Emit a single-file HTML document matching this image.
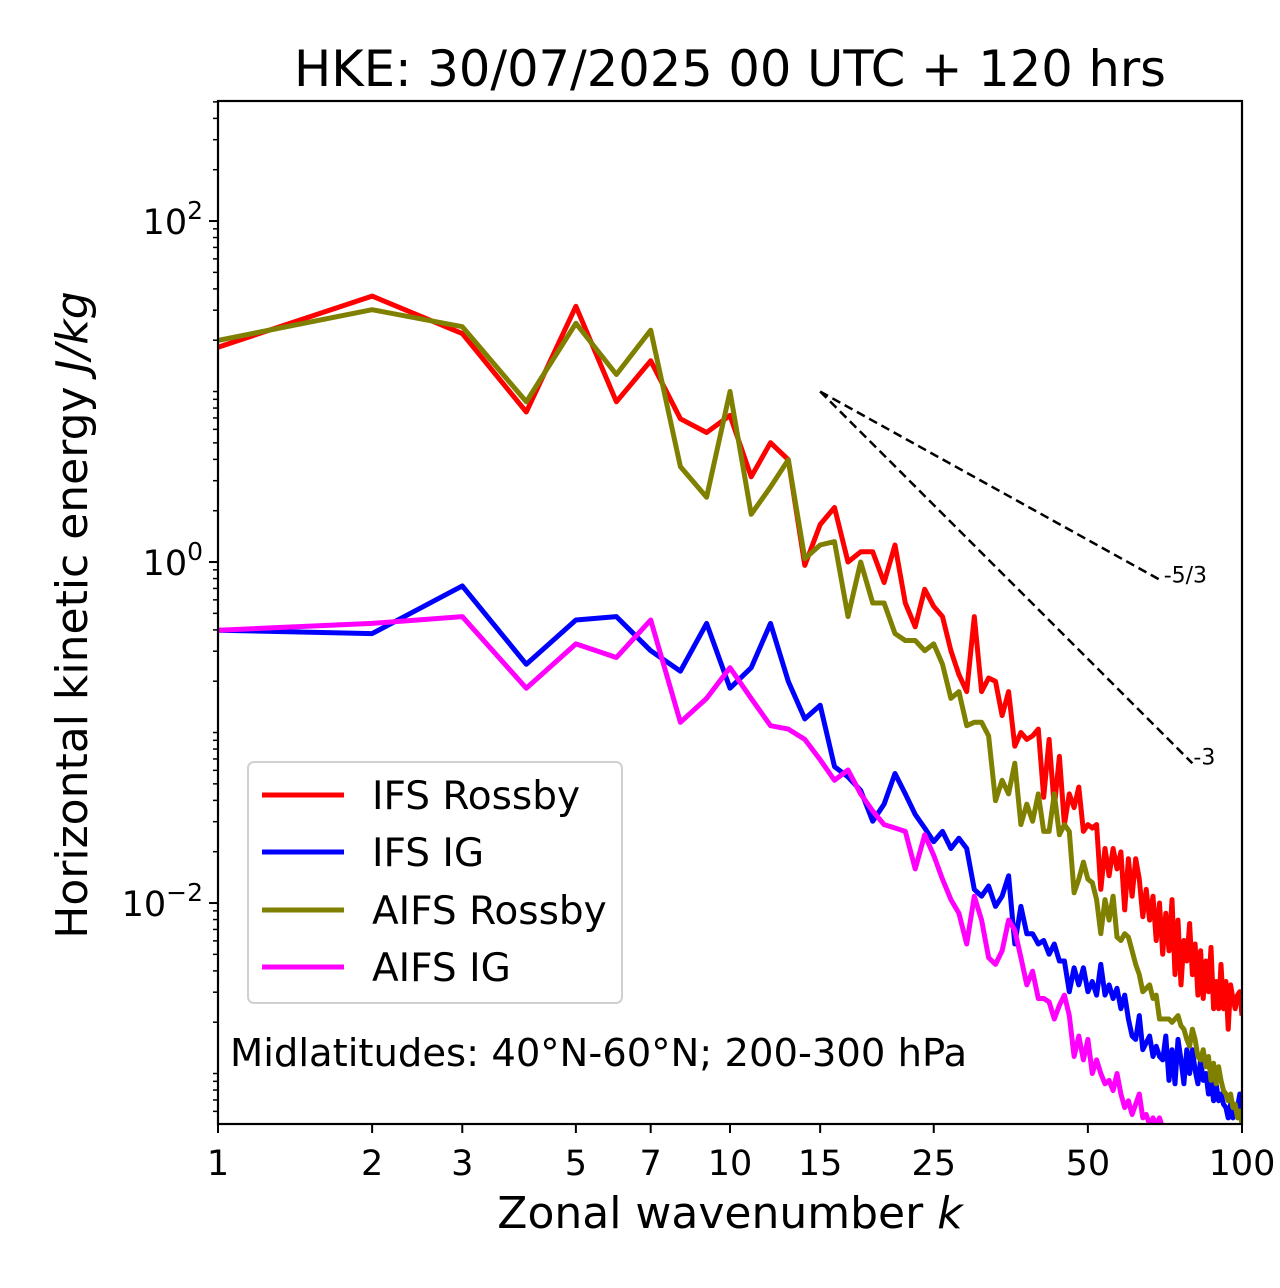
<!DOCTYPE html>
<html><head><meta charset="utf-8">
<style>
html,body{margin:0;padding:0;background:#fff;}
svg{display:block;font-family:"DejaVu Sans","Liberation Sans",sans-serif;}
</style></head>
<body>
<svg id="chart" width="1280" height="1288" viewBox="0 0 1280 1288">
<rect x="0" y="0" width="1280" height="1288" fill="#fff"/>
<text x="730" y="86" text-anchor="middle" font-size="49.5">HKE: 30/07/2025 00 UTC + 120 hrs</text>
<defs><clipPath id="plotclip"><rect x="218" y="101" width="1024" height="1023"/></clipPath></defs>
<g id="ticks"></g>
<g id="series" clip-path="url(#plotclip)"></g>
<rect x="218" y="101" width="1024" height="1023" fill="none" stroke="#000" stroke-width="2.2"/>
<text x="730" y="1228" text-anchor="middle" font-size="44">Zonal wavenumber <tspan font-style="italic">k</tspan></text>
<text transform="translate(87,615) rotate(-90)" text-anchor="middle" font-size="44">Horizontal kinetic energy <tspan font-style="italic">J/kg</tspan></text>
<g>
<rect x="248" y="762" width="374" height="241" rx="6" fill="#fff" stroke="#d0d0d0" stroke-width="2"/>
<g><line x1="262" y1="795" x2="344" y2="795" stroke="#ff0000" stroke-width="5"/><text x="372" y="809" font-size="39">IFS Rossby</text></g>
<g><line x1="262" y1="852" x2="344" y2="852" stroke="#0000ff" stroke-width="5"/><text x="372" y="866" font-size="39">IFS IG</text></g>
<g><line x1="262" y1="910" x2="344" y2="910" stroke="#808000" stroke-width="5"/><text x="372" y="924" font-size="39">AIFS Rossby</text></g>
<g><line x1="262" y1="967" x2="344" y2="967" stroke="#ff00ff" stroke-width="5"/><text x="372" y="981" font-size="39">AIFS IG</text></g>
</g>
<text x="230" y="1066" font-size="38.5">Midlatitudes: 40°N-60°N; 200-300 hPa</text>
</svg>
<script>
// log10 of energy (J/kg) for wavenumbers k = 1..N
const ifsRossbyLog10 = [1.26,1.56,1.34,0.88,1.50,0.94,1.18,0.84,0.76,0.86,0.50,0.70,0.60,-0.02,0.22,0.32,0.00,0.06,0.06,-0.12,0.10,-0.24,-0.38,-0.16,-0.26,-0.32,-0.52,-0.66,-0.76,-0.32,-0.76,-0.68,-0.70,-0.90,-0.76,-1.08,-1.00,-1.04,-1.02,-0.98,-1.38,-1.04,-1.44,-1.14,-1.54,-1.36,-1.44,-1.32,-1.58,-1.54,-1.56,-1.54,-1.92,-1.68,-1.84,-1.68,-1.80,-1.70,-2.04,-1.74,-1.96,-1.74,-1.86,-2.08,-1.92,-2.10,-1.96,-2.22,-2.00,-2.30,-2.06,-2.28,-1.98,-2.42,-2.10,-2.48,-2.22,-2.34,-2.12,-2.42,-2.24,-2.54,-2.28,-2.56,-2.34,-2.52,-2.26,-2.62,-2.46,-2.62,-2.36,-2.62,-2.46,-2.74,-2.48,-2.56,-2.62,-2.54,-2.52,-2.66];
const aifsRossbyLog10 = [1.30,1.48,1.38,0.94,1.40,1.10,1.36,0.56,0.38,1.00,0.28,0.44,0.60,0.02,0.10,0.12,-0.32,0.00,-0.24,-0.24,-0.42,-0.46,-0.46,-0.52,-0.48,-0.60,-0.80,-0.76,-0.96,-0.94,-0.94,-1.02,-1.40,-1.28,-1.36,-1.18,-1.54,-1.42,-1.52,-1.36,-1.58,-1.58,-1.36,-1.60,-1.54,-1.58,-1.94,-1.86,-1.76,-1.86,-1.88,-1.98,-2.18,-1.98,-2.10,-1.96,-2.20,-2.22,-2.18,-2.20,-2.28,-2.36,-2.42,-2.52,-2.50,-2.48,-2.56,-2.54,-2.68,-2.68,-2.68,-2.68,-2.70,-2.68,-2.66,-2.72,-2.74,-2.80,-2.84,-2.74,-2.80,-2.90,-2.92,-2.86,-2.96,-2.90,-3.04,-2.94,-3.06,-2.96,-3.04,-3.10,-3.12,-3.16,-3.12,-3.20,-3.18,-3.26,-3.22,-3.30];
const ifsIgLog10 = [-0.40,-0.42,-0.14,-0.60,-0.34,-0.32,-0.52,-0.64,-0.36,-0.74,-0.62,-0.36,-0.70,-0.92,-0.84,-1.20,-1.26,-1.34,-1.52,-1.42,-1.24,-1.36,-1.48,-1.56,-1.64,-1.58,-1.68,-1.62,-1.68,-1.92,-1.96,-1.90,-2.02,-1.96,-1.84,-2.24,-2.02,-2.18,-2.18,-2.24,-2.22,-2.30,-2.24,-2.34,-2.34,-2.52,-2.38,-2.48,-2.38,-2.52,-2.46,-2.54,-2.36,-2.54,-2.48,-2.56,-2.50,-2.62,-2.54,-2.68,-2.78,-2.80,-2.66,-2.86,-2.82,-2.78,-2.90,-2.84,-2.90,-2.92,-2.78,-3.04,-2.86,-3.06,-2.80,-2.92,-3.06,-2.86,-3.00,-2.86,-2.98,-3.06,-2.92,-3.04,-3.00,-3.12,-3.04,-3.16,-3.06,-3.16,-3.12,-3.18,-3.20,-3.26,-3.18,-3.26,-3.24,-3.20,-3.12,-3.22];
const aifsIgLog10 = [-0.40,-0.36,-0.32,-0.74,-0.48,-0.56,-0.34,-0.94,-0.80,-0.62,-0.80,-0.96,-0.98,-1.04,-1.16,-1.28,-1.22,-1.36,-1.46,-1.54,-1.56,-1.58,-1.80,-1.60,-1.72,-1.86,-1.98,-2.06,-2.24,-1.96,-2.10,-2.32,-2.36,-2.28,-2.10,-2.16,-2.32,-2.48,-2.40,-2.56,-2.56,-2.58,-2.68,-2.60,-2.54,-2.66,-2.90,-2.78,-2.92,-2.80,-3.00,-2.92,-3.00,-3.06,-3.04,-3.10,-3.00,-3.12,-3.20,-3.16,-3.24,-3.18,-3.12,-3.26,-3.24,-3.30,-3.26,-3.30,-3.26,-3.32,-3.40,-3.44,-3.48,-3.46,-3.52];
const refLineK = [15, 70, 80];
const refLineE = [10, 0.77, 0.066];
const xTickValues = [1,2,3,5,7,10,15,25,50,100];
const xTickLabels = ["1","2","3","5","7","10","15","25","50","100"];
const yMajorExps = [2,0,-2];
const yMajorLabels = ["2","0","\u22122"];

const X0=218, X1=1242, Y0=1124, Y1=101;
const xMin=0, xMax=2, yMin=-3.296, yMax=2.704;
function xs(k){return X0+(Math.log10(k)-xMin)/(xMax-xMin)*(X1-X0);}
function ysLog(l){return Y0-(l-yMin)/(yMax-yMin)*(Y0-Y1);}
function ys(v){return ysLog(Math.log10(v));}
const NS="http://www.w3.org/2000/svg";
const svg=document.getElementById('chart');
const tg=document.getElementById('ticks');
const sg=document.getElementById('series');
function mk(tag,attrs,parent){const e=document.createElementNS(NS,tag);for(const a in attrs)e.setAttribute(a,attrs[a]);parent.appendChild(e);return e;}

xTickValues.forEach((k,i)=>{
  const x=xs(k);
  const t=mk('line',{x1:x,y1:Y0,x2:x,y2:Y0+9,stroke:'#000','stroke-width':2},tg);
  
  
  const lb=mk('text',{x:x,y:1175,'text-anchor':'middle','font-size':35},tg);
  lb.textContent=xTickLabels[i];
  
  
});
for(let e=-4;e<=2;e++){
  for(let d=1;d<=9;d++){
    const l=e+Math.log10(d);
    if(l<yMin||l>yMax)continue;
    const major=(d===1&&yMajorExps.indexOf(e)>=0);
    const y=ysLog(l);
    const t=mk('line',{x1:X0-(major?9:5),y1:y,x2:X0,y2:y,stroke:'#000','stroke-width':major?2:1.5},tg);
    
    
  }
}
yMajorExps.forEach((e,i)=>{
  const y=ysLog(e);
  const lb=mk('text',{x:203,y:y+13,'text-anchor':'end','font-size':35},tg);
  
  
  const a=document.createElementNS(NS,'tspan');a.textContent='10';lb.appendChild(a);
  const b=document.createElementNS(NS,'tspan');b.setAttribute('dy','-15');b.setAttribute('font-size','25');b.textContent=yMajorLabels[i];lb.appendChild(b);
});

function drawSeries(arr,color,name){
  const pts=arr.map((l,i)=>xs(i+1).toFixed(1)+','+ysLog(l).toFixed(1)).join(' ');
  const p=mk('polyline',{points:pts,fill:'none',stroke:color,'stroke-width':5,'stroke-linejoin':'round'},sg);
  
  
}
drawSeries(ifsRossbyLog10,'#ff0000','ifs-rossby-line');
drawSeries(ifsIgLog10,'#0000ff','ifs-ig-line');
drawSeries(aifsRossbyLog10,'#808000','aifs-rossby-line');
drawSeries(aifsIgLog10,'#ff00ff','aifs-ig-line');

const r1=mk('line',{x1:xs(refLineK[0]),y1:ys(refLineE[0]),x2:xs(refLineK[1]),y2:ys(refLineE[1]),stroke:'#000','stroke-width':2.5,'stroke-dasharray':'9,5'},svg);


const r2=mk('line',{x1:xs(refLineK[0]),y1:ys(refLineE[0]),x2:xs(refLineK[2]),y2:ys(refLineE[2]),stroke:'#000','stroke-width':2.5,'stroke-dasharray':'9,5'},svg);


const l1=mk('text',{x:xs(refLineK[1])+1,y:ys(refLineE[1])+1,'font-size':22},svg);
l1.textContent='-5/3';


const l2=mk('text',{x:xs(refLineK[2])+1,y:ys(refLineE[2])+1,'font-size':22},svg);
l2.textContent='-3';


</script>
</body></html>
